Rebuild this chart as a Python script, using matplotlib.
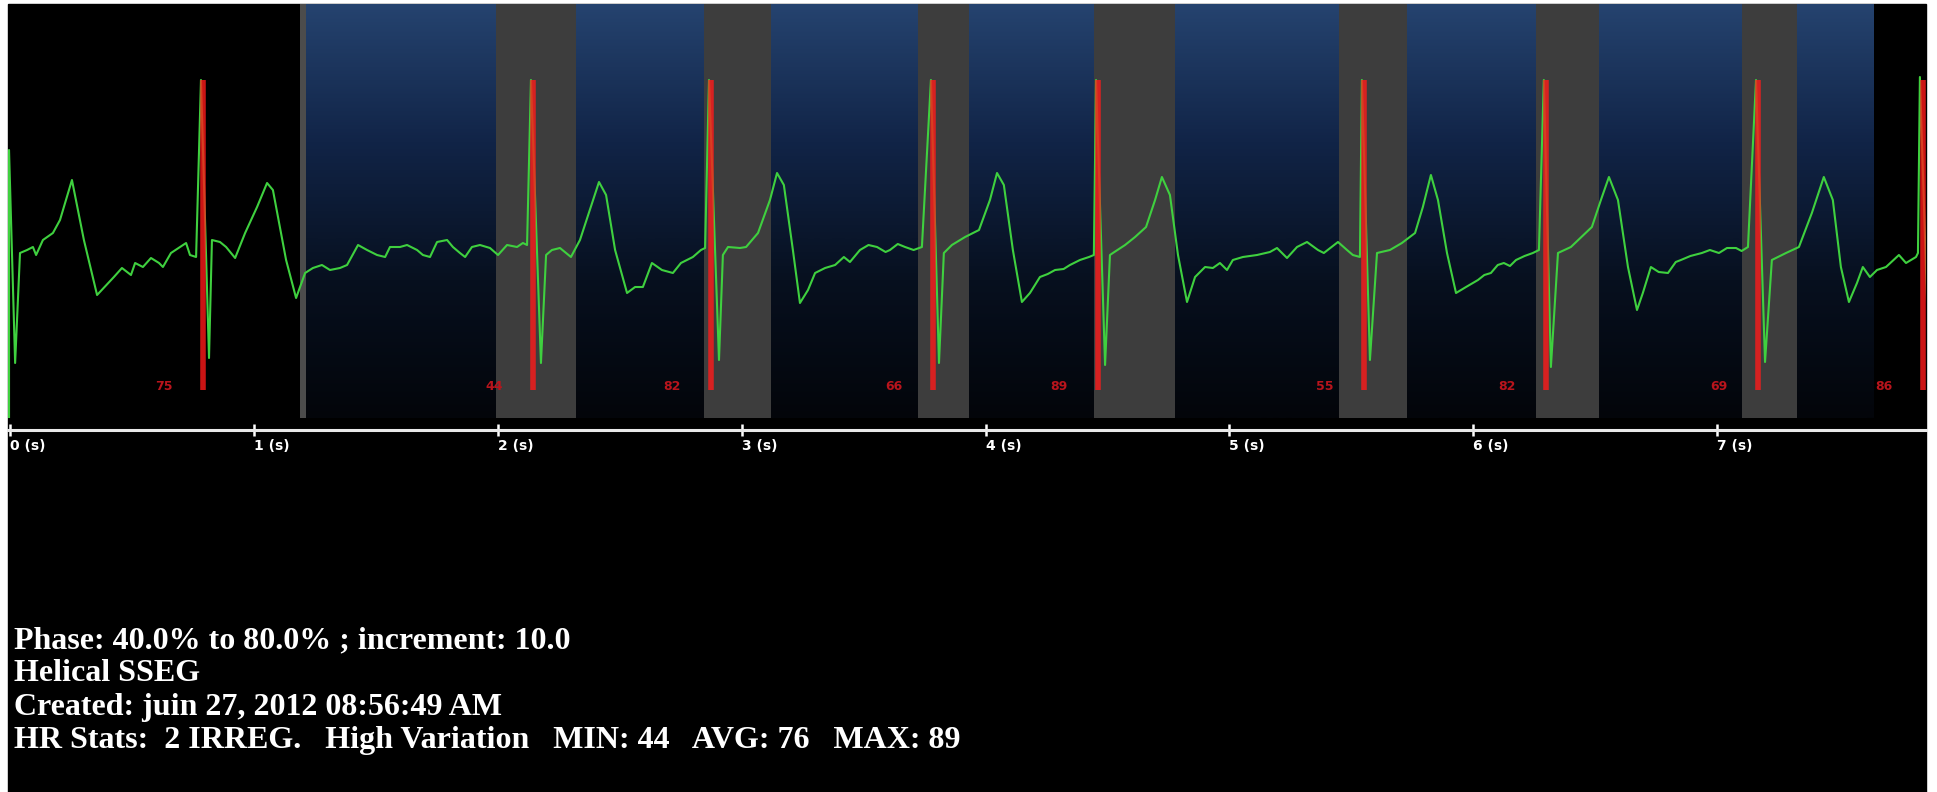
import numpy as np
import matplotlib
matplotlib.use('Agg')
import matplotlib.pyplot as plt
from matplotlib.colors import LinearSegmentedColormap
from matplotlib.patches import Rectangle

# Trazado ECG: (tiempo en s, amplitud en mV aprox.)
ecg_trace = [
    (-0.004, -1.67), (-0.004, 1.00), (0.021, -1.13), (0.041, -0.03), (0.070, 0.00),
    (0.094, 0.03), (0.107, -0.05), (0.135, 0.10), (0.176, 0.17), (0.205, 0.30),
    (0.254, 0.70), (0.303, 0.10), (0.357, -0.45), (0.426, -0.27), (0.459, -0.18),
    (0.496, -0.25), (0.513, -0.13), (0.545, -0.17), (0.578, -0.08), (0.611, -0.13),
    (0.627, -0.17), (0.660, -0.03), (0.697, 0.03), (0.722, 0.07), (0.738, -0.05),
    (0.763, -0.07),
    (0.783, 1.70), (0.816, -1.08),
    (0.828, 0.10), (0.861, 0.08), (0.886, 0.03), (0.923, -0.08), (0.964, 0.17),
    (1.013, 0.43), (1.054, 0.67), (1.078, 0.60), (1.132, -0.10), (1.173, -0.48),
    (1.210, -0.23), (1.242, -0.18), (1.279, -0.15), (1.312, -0.20), (1.353, -0.18),
    (1.382, -0.15), (1.427, 0.05), (1.464, 0.00), (1.505, -0.05), (1.538, -0.07),
    (1.558, 0.03), (1.599, 0.03), (1.628, 0.05), (1.669, 0.00), (1.693, -0.05),
    (1.722, -0.07), (1.751, 0.08), (1.792, 0.10), (1.816, 0.03), (1.845, -0.03),
    (1.866, -0.07), (1.894, 0.03), (1.927, 0.05), (1.968, 0.02), (2.001, -0.05),
    (2.038, 0.05), (2.079, 0.03), (2.103, 0.07), (2.120, 0.05),
    (2.136, 1.70), (2.177, -1.13),
    (2.198, -0.05), (2.222, 0.00), (2.255, 0.02), (2.300, -0.07), (2.337, 0.10),
    (2.415, 0.68), (2.444, 0.55), (2.481, 0.00), (2.530, -0.43), (2.563, -0.37),
    (2.595, -0.37), (2.632, -0.13), (2.673, -0.20), (2.718, -0.23), (2.751, -0.13),
    (2.800, -0.07), (2.833, 0.00), (2.850, 0.02),
    (2.866, 1.70), (2.907, -1.10),
    (2.923, -0.05), (2.944, 0.03), (2.993, 0.02), (3.018, 0.03), (3.067, 0.17),
    (3.116, 0.50), (3.145, 0.77), (3.173, 0.65), (3.210, 0.00), (3.239, -0.53),
    (3.272, -0.40), (3.301, -0.23), (3.342, -0.18), (3.383, -0.15), (3.419, -0.07),
    (3.444, -0.12), (3.485, 0.00), (3.520, 0.05), (3.555, 0.03), (3.590, -0.02),
    (3.608, 0.00), (3.640, 0.06), (3.670, 0.03), (3.705, 0.00), (3.739, 0.03),
    (3.776, 1.70), (3.809, -1.13),
    (3.829, -0.03), (3.862, 0.05), (3.916, 0.13), (3.973, 0.20), (4.018, 0.50),
    (4.047, 0.77), (4.075, 0.65), (4.112, 0.00), (4.149, -0.52), (4.182, -0.43),
    (4.223, -0.27), (4.255, -0.24), (4.285, -0.20), (4.320, -0.19), (4.346, -0.15),
    (4.387, -0.10), (4.424, -0.07), (4.444, -0.05),
    (4.453, 1.70), (4.490, -1.15),
    (4.510, -0.05), (4.522, -0.03), (4.572, 0.05), (4.613, 0.13), (4.658, 0.23),
    (4.695, 0.50), (4.723, 0.73), (4.756, 0.55), (4.789, -0.05), (4.826, -0.52),
    (4.859, -0.27), (4.900, -0.17), (4.932, -0.18), (4.961, -0.13), (4.990, -0.20),
    (5.014, -0.10), (5.055, -0.07), (5.113, -0.05), (5.166, -0.02), (5.195, 0.02),
    (5.236, -0.08), (5.277, 0.03), (5.318, 0.08), (5.363, 0.00), (5.387, -0.03),
    (5.445, 0.08), (5.482, 0.00), (5.506, -0.05), (5.535, -0.07),
    (5.543, 1.70), (5.576, -1.10),
    (5.605, -0.03), (5.658, 0.00), (5.707, 0.07), (5.761, 0.17), (5.793, 0.43),
    (5.826, 0.75), (5.855, 0.50), (5.892, -0.03), (5.929, -0.43), (5.970, -0.37),
    (6.019, -0.30), (6.045, -0.25), (6.072, -0.23), (6.100, -0.15), (6.125, -0.13),
    (6.150, -0.16), (6.175, -0.10), (6.210, -0.06), (6.244, -0.03), (6.269, 0.00),
    (6.289, 1.70), (6.318, -1.17),
    (6.347, -0.03), (6.400, 0.03), (6.486, 0.23), (6.523, 0.50), (6.556, 0.73),
    (6.593, 0.50), (6.634, -0.17), (6.671, -0.60), (6.695, -0.43), (6.728, -0.17),
    (6.760, -0.22), (6.798, -0.23), (6.830, -0.12), (6.851, -0.10), (6.890, -0.06),
    (6.937, -0.03), (6.970, 0.00), (7.007, -0.03), (7.040, 0.02), (7.077, 0.02),
    (7.100, -0.01), (7.126, 0.03),
    (7.159, 1.70), (7.196, -1.12),
    (7.224, -0.10), (7.282, -0.03), (7.335, 0.03), (7.388, 0.37), (7.437, 0.73),
    (7.474, 0.50), (7.507, -0.17), (7.540, -0.52), (7.573, -0.33), (7.597, -0.17),
    (7.626, -0.27), (7.655, -0.20), (7.692, -0.17), (7.745, -0.05), (7.774, -0.13),
    (7.815, -0.07), (7.823, -0.03),
    (7.831, 1.73), (7.868, -1.13),
]
ecg_t = [p[0] for p in ecg_trace]
ecg_mv = [p[1] for p in ecg_trace]

# Picos R y frecuencia cardiaca asociada
r_times = [0.791, 2.144, 2.874, 3.784, 4.461, 5.551, 6.298, 7.167, 7.843]
hr_labels = [75, 44, 82, 66, 89, 55, 82, 69, 86]

# Ventanas de fase (bandas grises)
band_start = [1.993, 2.845, 3.723, 4.444, 5.449, 6.257, 7.101]
band_end = [2.321, 3.120, 3.932, 4.777, 5.728, 6.515, 7.327]
scan_start = 1.214
scan_end = 7.642

tick_pos = [0, 1, 2, 3, 4, 5, 6, 7]
tick_labels = ['0 (s)', '1 (s)', '2 (s)', '3 (s)', '4 (s)', '5 (s)', '6 (s)', '7 (s)']

info_lines = ['Phase: 40.0% to 80.0% ; increment: 10.0',
              'Helical SSEG',
              'Created: juin 27, 2012 08:56:49 AM',
              'HR Stats:  2 IRREG.   High Variation   MIN: 44   AVG: 76   MAX: 89']

W, H = 1937, 792
fig = plt.figure(figsize=(W / 100, H / 100), dpi=100, facecolor='white')
fig.patches.append(Rectangle((8 / W, 0), 1918 / W, 788 / H, transform=fig.transFigure,
                             color='black', zorder=-5))

ax = fig.add_axes([8 / W, (H - 430) / H, 1918 / W, 426 / H])
ax.set_facecolor('black')

y_lo, y_hi = -1.80, 2.46
bg_lo = -1.68

# Fondo degradado azul de la zona de adquisicion
cmap = LinearSegmentedColormap.from_list('scan', ['#03050a', '#07101f', '#112447', '#25436f'])
grad = np.linspace(0, 1, 256).reshape(-1, 1)
ax.imshow(grad, cmap=cmap, origin='lower', aspect='auto',
          extent=(scan_start, scan_end, bg_lo, y_hi), zorder=0)

frac_lo = (bg_lo - y_lo) / (y_hi - y_lo)
ax.axvspan(1.189, scan_start, ymin=frac_lo, ymax=1, color='#4c4c4c', lw=0, zorder=1)
for b0, b1 in zip(band_start, band_end):
    ax.axvspan(b0, b1, ymin=frac_lo, ymax=1, color='#3d3d3d', lw=0, zorder=1)

# Trazado
ax.plot(ecg_t, ecg_mv, color='#3fd03f', lw=1.5, zorder=4, solid_joinstyle='round')
ax.vlines(r_times, -1.40, 1.70, color='#ff1a1a', lw=4, alpha=0.8, zorder=5)

for t, hr in zip(r_times, hr_labels):
    ax.annotate(str(hr), (t, -1.37), xytext=(-39, 0), textcoords='offset pixels',
                color='#b8141c', fontsize=9, fontweight='bold', ha='center', va='center',
                zorder=6)

ax.set_xlim(-0.0082, 7.856)
ax.set_ylim(y_lo, y_hi)

for s in ['top', 'left', 'right']:
    ax.spines[s].set_visible(False)
ax.spines['bottom'].set_color('#e8e8e8')
ax.spines['bottom'].set_linewidth(2.2)
ax.set_yticks([])
ax.set_xticks(tick_pos)
ax.set_xticklabels(tick_labels, fontsize=10, fontweight='bold', color='white')
for lbl in ax.get_xticklabels():
    lbl.set_horizontalalignment('left')
ax.tick_params(axis='x', direction='inout', length=9, width=1.8, colors='white', pad=2)

for i, line in enumerate(info_lines):
    fig.text(14 / W, 1 - (648 + i * 33.4) / H, line, family='Liberation Serif',
             fontweight='bold', fontsize=23, color='white', va='baseline')

fig.savefig('out.png', dpi=100, facecolor='white')
